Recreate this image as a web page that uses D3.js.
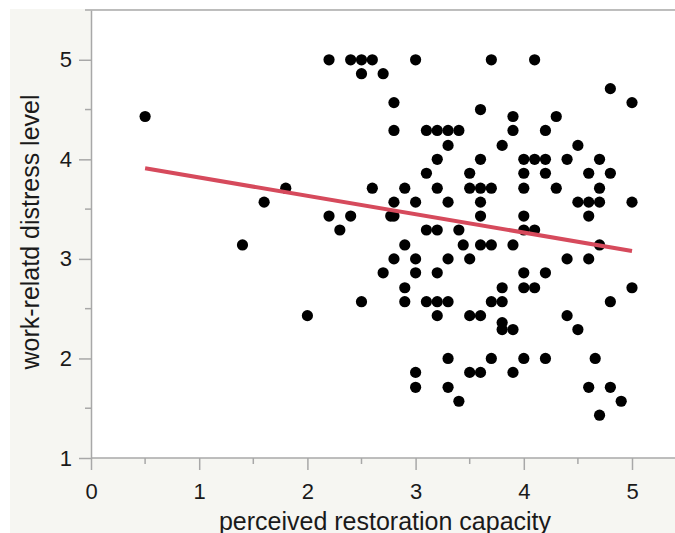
<!DOCTYPE html>
<html>
<head>
<meta charset="utf-8">
<script src="https://cdn.jsdelivr.net/npm/d3@7"></script>
<style>
  body { margin: 0; background: #fff; }
  svg { display: block; }
  text { font-family: "Liberation Sans", Arial, Helvetica, sans-serif; fill: #1a1a1a; }
</style>
</head>
<body>
<script>
// distress levels (rows) and the restoration scores of every dot on that row
let distressLevels = [5, 4.86, 4.71, 4.57, 4.5, 4.43, 4.29, 4.14, 4, 3.86, 3.71, 3.57, 3.43, 3.29,
  3.14, 3, 2.86, 2.71, 2.57, 2.43, 2.36, 2.29, 2, 1.86, 1.71, 1.57, 1.43]
let restorationByLevel = [
  [2.2, 2.4, 2.5, 2.6, 3.0, 3.7, 4.1],
  [2.5, 2.7],
  [4.8],
  [2.8, 5.0],
  [3.6],
  [0.5, 3.9, 4.3],
  [2.8, 3.1, 3.2, 3.3, 3.4, 3.9, 4.2],
  [3.3, 3.8, 4.5],
  [3.2, 3.6, 4.0, 4.1, 4.2, 4.4, 4.7],
  [3.1, 3.5, 4.0, 4.2, 4.6, 4.8],
  [1.8, 2.6, 2.9, 3.2, 3.5, 3.6, 3.7, 4.0, 4.3, 4.7],
  [1.6, 2.8, 3.0, 3.3, 3.6, 4.5, 4.6, 4.7, 5.0],
  [2.2, 2.4, 2.77, 2.8, 3.6, 4.0, 4.6],
  [2.3, 3.1, 3.2, 3.4, 4.0, 4.1],
  [1.4, 2.9, 3.44, 3.6, 3.7, 3.9, 4.7],
  [2.8, 3.0, 3.3, 3.5, 4.4, 4.6],
  [2.7, 3.0, 3.2, 4.0, 4.2],
  [2.9, 3.8, 4.0, 4.1, 5.0],
  [2.5, 2.9, 3.1, 3.2, 3.3, 3.7, 3.8, 4.8],
  [2.0, 3.2, 3.5, 3.6, 4.4],
  [3.8],
  [3.8, 3.9, 4.5],
  [3.3, 3.7, 4.0, 4.2, 4.66],
  [3.0, 3.5, 3.6, 3.9],
  [3.0, 3.3, 4.6, 4.8],
  [3.4, 4.9],
  [4.7]
]
// fitted line
let fitIntercept = 4.002
let fitSlope = -0.1844

let xTicks = [0, 1, 2, 3, 4, 5]
let yTicks = [1, 2, 3, 4, 5]
let xLabel = "perceived restoration capacity"
let yLabel = "work-relatd distress level"

let points = []
distressLevels.forEach((y, i) => {
  restorationByLevel[i].forEach(x => points.push({x: x, y: y}))
})

let width = 675, height = 533
let plotLeft = 91, plotTop = 10, plotBottom = 458

let svg = d3.select("body").append("svg").attr("width", width).attr("height", height)

svg.append("rect").attr("x", 10).attr("y", 9).attr("width", width - 10).attr("height", height - 9)
  .attr("fill", "#f6f6f2")

let x = d3.scaleLinear().domain([0, 5.4]).range([plotLeft, plotLeft + 5.4 * 108.2])
let y = d3.scaleLinear().domain([1, 5.5]).range([plotBottom, plotTop])

svg.append("rect").attr("x", plotLeft).attr("y", plotTop)
  .attr("width", width - plotLeft).attr("height", plotBottom - plotTop).attr("fill", "#fff")

// top frame line
svg.append("line").attr("x1", plotLeft).attr("x2", width).attr("y1", plotTop).attr("y2", plotTop)
  .attr("stroke", "#a8a8a8").attr("stroke-width", 1.5)

svg.append("clipPath").attr("id", "clip").append("rect")
  .attr("x", plotLeft).attr("y", plotTop).attr("width", width - plotLeft).attr("height", plotBottom - plotTop)

let xMinor = d3.range(0.5, 5.4, 1)
let yMinor = d3.range(1.5, 5.6, 1)

function styleAxis(g) {
  g.select(".domain").attr("stroke", "#a8a8a8").attr("stroke-width", 1.5)
  g.selectAll(".tick line").attr("stroke", "#a8a8a8").attr("stroke-width", 1.5)
  g.selectAll("text").attr("font-size", 22).attr("fill", "#1a1a1a")
}

let xAxis = svg.append("g").attr("transform", "translate(0," + plotBottom + ")")
  .call(d3.axisBottom(x).tickValues(xTicks).tickSize(12).tickPadding(13).tickFormat(d3.format("d")).tickSizeOuter(0))
styleAxis(xAxis)
xAxis.select(".domain").attr("d", "M" + (plotLeft) + ",0H" + width)
svg.append("g").attr("transform", "translate(0," + plotBottom + ")")
  .selectAll("line").data(xMinor).join("line")
  .attr("x1", d => x(d)).attr("x2", d => x(d)).attr("y1", 0).attr("y2", 6)
  .attr("stroke", "#a8a8a8").attr("stroke-width", 1.5)

let yAxis = svg.append("g").attr("transform", "translate(" + plotLeft + ",0)")
  .call(d3.axisLeft(y).tickValues(yTicks).tickSize(12).tickPadding(7).tickFormat(d3.format("d")).tickSizeOuter(0))
styleAxis(yAxis)
svg.append("g").attr("transform", "translate(" + plotLeft + ",0)")
  .selectAll("line").data(yMinor).join("line")
  .attr("x1", -6).attr("x2", 0).attr("y1", d => y(d)).attr("y2", d => y(d))
  .attr("stroke", "#a8a8a8").attr("stroke-width", 1.5)

let plot = svg.append("g").attr("clip-path", "url(#clip)")

plot.selectAll("circle").data(points).join("circle")
  .attr("cx", d => x(d.x)).attr("cy", d => y(d.y)).attr("r", 5.6).attr("fill", "#000")

let ext = d3.extent(points, d => d.x)
plot.append("line")
  .attr("x1", x(ext[0])).attr("y1", y(fitIntercept + fitSlope * ext[0]))
  .attr("x2", x(ext[1])).attr("y2", y(fitIntercept + fitSlope * ext[1]))
  .attr("stroke", "#d64a5c").attr("stroke-width", 4)

svg.append("text").attr("x", (plotLeft + width) / 2 + 2).attr("y", 530)
  .attr("text-anchor", "middle").attr("font-size", 25).text(xLabel)

svg.append("text").attr("transform", "translate(39," + ((plotTop + plotBottom) / 2 - 2) + ") rotate(-90)")
  .attr("text-anchor", "middle").attr("font-size", 25).text(yLabel)
</script>
</body>
</html>
